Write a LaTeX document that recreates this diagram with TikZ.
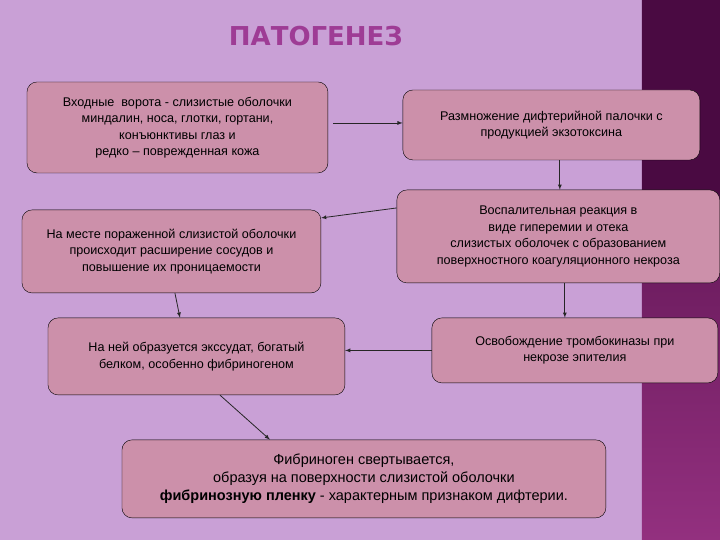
\documentclass[tikz,border=0pt]{standalone}
\usepackage{fontspec}
\setmainfont{Liberation Sans}
\newfontfamily\titfont{DejaVu Sans}
\begin{document}
\begin{tikzpicture}[x=1pt,y=-1pt,
  box/.style={draw=black,fill=boxc,rounded corners=10pt,align=center,inner sep=0pt,font=\fontsize{12.6}{16.5}\selectfont},
  arr/.style={-latex,thick,draw=black!85}]
\definecolor{bgc}{HTML}{C9A0D6}
\definecolor{boxc}{HTML}{CC90AA}
\definecolor{stripa}{HTML}{4A0A42}
\definecolor{stripb}{HTML}{93307F}
\definecolor{titc}{HTML}{9E3C95}
\fill[bgc] (0,0) rectangle (720,540);
\shade[top color=stripa,bottom color=stripb] (642,0) rectangle (720,540);
\fill[stripa] (642,0) rectangle (720,200);
\node[font=\titfont\bfseries\fontsize{26}{30}\selectfont,text=titc] (t) at (316,36) {ПАТОГЕНЕЗ};
\node[box,minimum width=301,minimum height=91] (a) at (177.5,127.5) {Входные \ ворота - слизистые оболочки\\миндалин, носа, глотки, гортани,\\конъюнктивы глаз и\\редко -- поврежденная кожа};
\node[box,minimum width=297,minimum height=70] (b) at (551.5,125) {Размножение дифтерийной палочки с\\продукцией экзотоксина};
\node[box,minimum width=299,minimum height=83] (c) at (171.5,251.5) {На месте пораженной слизистой оболочки\\происходит расширение сосудов и\\повышение их проницаемости};
\node[box,minimum width=323,minimum height=93] (d) at (558.5,236.5) {Воспалительная реакция в\\виде гиперемии и отека\\слизистых оболочек с образованием\\поверхностного коагуляционного некроза};
\node[box,minimum width=297,minimum height=77] (e) at (196.5,356.5) {На ней образуется экссудат, богатый\\белком, особенно фибриногеном};
\node[box,minimum width=286,minimum height=65] (f) at (575,350.5) {Освобождение тромбокиназы при\\некрозе эпителия};
\node[box,minimum width=484,minimum height=78,font=\fontsize{14.5}{18}\selectfont] (g) at (364,479) {Фибриноген свертывается,\\образуя на поверхности слизистой оболочки\\\textbf{фибринозную пленку} - характерным признаком дифтерии.};
\draw[arr] (a.east|-0,123) ++(5,0) -- (b.west|-0,123);
\draw[arr] (b.south-|560,0) -- (d.north-|560,0);
\draw[arr] (d.west|-0,208) -- (c.east|-0,218);
\draw[arr] (c.south-|175,0) -- (e.north-|180,0);
\draw[arr] (f.west) -- (e.east|-f.west);
\draw[arr] (d.south-|565,0) -- (f.north-|565,0);
\draw[arr] (e.south-|220,0) -- (g.north-|270,0);
\end{tikzpicture}
\end{document}
